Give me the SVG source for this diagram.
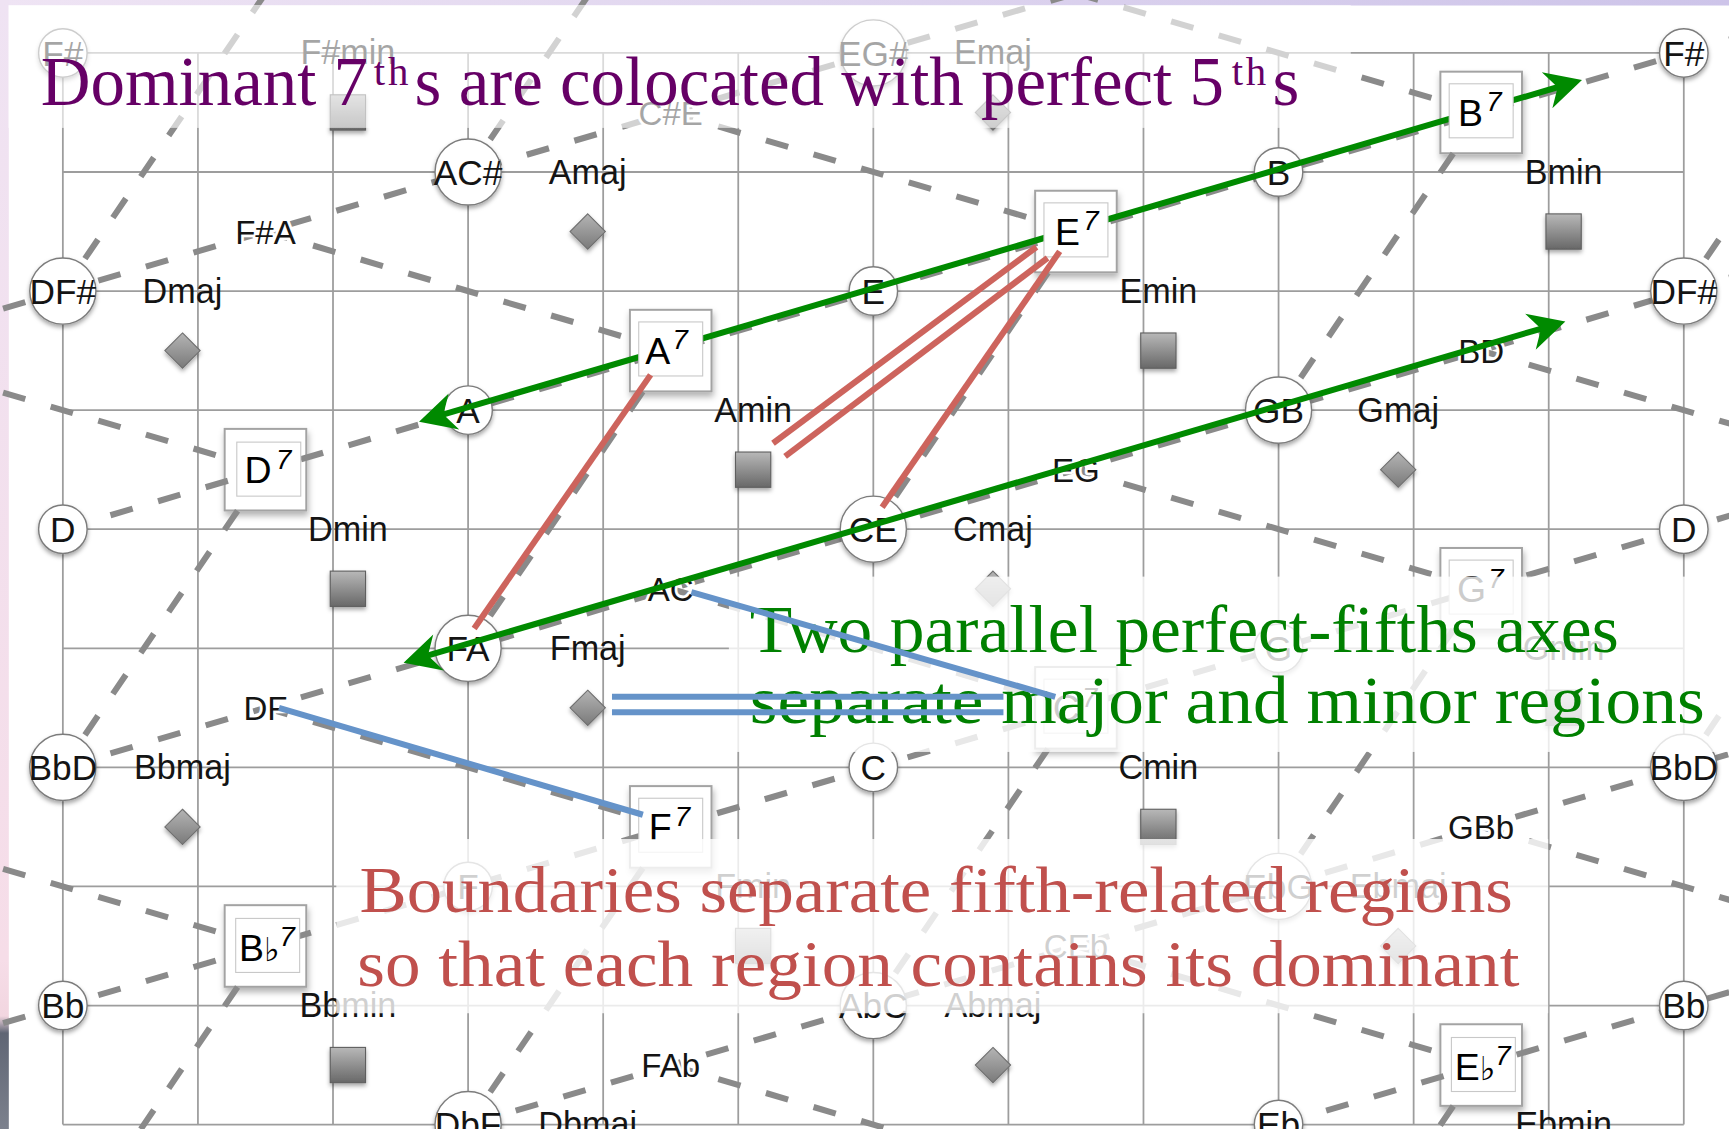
<svg xmlns="http://www.w3.org/2000/svg" width="1729" height="1129" viewBox="0 0 1729 1129">
<defs>
<style>
.grid{fill:none;stroke:#9d9d9d;stroke-width:1.6}
.bd{fill:none;stroke:#8a8a8a;stroke-width:5.5;stroke-dasharray:21 24}
.nc{fill:#fff;stroke:#7c7c7c;stroke-width:1.3;filter:url(#sh)}
.t{font-family:"Liberation Sans",Arial,sans-serif;fill:#141414;text-anchor:middle}
.nt{font-size:32px}
.ch{font-size:31px}
.iv{font-size:30px;stroke:#fff;stroke-width:5;paint-order:stroke;stroke-linejoin:round}
.sq{fill:url(#gsq);stroke:#5f5f5f;stroke-width:1;filter:url(#sh)}
.dia{fill:url(#gdia);stroke:#6f6f6f;stroke-width:1;filter:url(#sh)}
.frame{fill:#fff;stroke:#a3a3a3;stroke-width:1.8;filter:url(#sh2)}
.inner{fill:#fff;stroke:#c8c8c8;stroke-width:1}
.dom{font-family:"Liberation Sans",Arial,sans-serif;font-size:34px;fill:#000}
.sup{font-size:25px;font-style:italic}
.flat{font-family:"DejaVu Sans",sans-serif;font-size:30px}
.arrow{fill:none;stroke:#008a00;stroke-width:5.5;marker-start:url(#ah);marker-end:url(#ah)}
.red{stroke:#cd645d;stroke-width:5.5}
.blue{stroke:#6593c9;stroke-width:5.5}
.veil{fill:#fff}
.serif{font-family:"Liberation Serif","Times New Roman",serif}
.th{font-size:37px;letter-spacing:2.5px}
</style>
<filter id="sh" x="-40%" y="-40%" width="180%" height="190%"><feDropShadow dx="0" dy="2.5" stdDeviation="2" flood-color="#000" flood-opacity="0.35"/></filter>
<filter id="sh2" x="-20%" y="-20%" width="150%" height="150%"><feDropShadow dx="1" dy="4" stdDeviation="3" flood-color="#000" flood-opacity="0.3"/></filter>
<linearGradient id="gsq" x1="0" y1="0" x2="0" y2="1"><stop offset="0" stop-color="#b8b8b8"/><stop offset="1" stop-color="#686868"/></linearGradient>
<linearGradient id="gdia" x1="0" y1="0" x2="0" y2="1"><stop offset="0" stop-color="#b4b4b4"/><stop offset="1" stop-color="#7a7a7a"/></linearGradient>
<linearGradient id="topg" x1="0" y1="0" x2="1" y2="0"><stop offset="0" stop-color="#efe4f4"/><stop offset="1" stop-color="#cdc4e9"/></linearGradient>
<linearGradient id="leftg" x1="0" y1="0" x2="0" y2="1"><stop offset="0" stop-color="#efe3f3"/><stop offset="0.85" stop-color="#f6dde8"/><stop offset="0.9" stop-color="#f2d6e0"/><stop offset="0.915" stop-color="#5f6574"/><stop offset="1" stop-color="#7c818d"/></linearGradient>
<marker id="ah" markerUnits="userSpaceOnUse" orient="auto-start-reverse" refX="0" refY="0" markerWidth="10" markerHeight="10" style="overflow:visible">
<path d="M20,0 L-13,-17 L-3,0 L-13,17 Z" fill="#008a00"/>
</marker>
</defs>
<g transform="scale(1.10268,1.10254)">
<g id="background">
<rect x="0" y="0" width="1568" height="1024" fill="#fff"/>
<rect x="0" y="0" width="1568" height="5" fill="url(#topg)"/>
<rect x="0" y="0" width="8" height="1024" fill="url(#leftg)"/>
</g>
<g id="grid">
<path class="grid" d="M57,48V1020M179.5,48V1020M302,48V1020M424.5,48V1020M547,48V1020M669.5,48V1020M792,48V1020M914.5,48V1020M1037,48V1020M1159.5,48V1020M1282,48V1020M1404.5,48V1020M1527,48V1020M57,48H1527M57,156H1527M57,264H1527M57,372H1527M57,480H1527M57,588H1527M57,696H1527M57,804H1527M57,912H1527M57,1020H1527"/>
</g>
<g id="dom-frames">
<rect class="frame" x="1306.25" y="65" width="74" height="74"/>
<rect class="frame" x="938.75" y="173" width="74" height="74"/>
<rect class="frame" x="571.25" y="281" width="74" height="74"/>
<rect class="frame" x="203.75" y="389" width="74" height="74"/>
<rect class="frame" x="1306.25" y="497" width="74" height="74"/>
<rect class="frame" x="938.75" y="605" width="74" height="74"/>
<rect class="frame" x="571.25" y="713" width="74" height="74"/>
<rect class="frame" x="203.75" y="821" width="74" height="74"/>
<rect class="frame" x="1306.25" y="929" width="74" height="74"/>
</g>
<g id="boundaries">
<path class="bd" d="M-126.75,318L975.75,-6"/>
<path class="bd" d="M57,480L1710.75,-6"/>
<path class="bd" d="M57,696L1710.75,210"/>
<path class="bd" d="M-126.75,966L1710.75,426"/>
<path class="bd" d="M424.5,1020L1710.75,642"/>
<path class="bd" d="M1159.5,1020L1710.75,858"/>
<path class="bd" d="M975.75,-6L1343.25,102"/>
<path class="bd" d="M608.25,102L975.75,210"/>
<path class="bd" d="M240.75,210L608.25,318"/>
<path class="bd" d="M-126.75,318L240.75,426"/>
<path class="bd" d="M1343.25,318L1710.75,426"/>
<path class="bd" d="M975.75,426L1343.25,534"/>
<path class="bd" d="M608.25,534L975.75,642"/>
<path class="bd" d="M240.75,642L608.25,750"/>
<path class="bd" d="M-126.75,750L240.75,858"/>
<path class="bd" d="M1343.25,750L1710.75,858"/>
<path class="bd" d="M975.75,858L1343.25,966"/>
<path class="bd" d="M608.25,966L975.75,1074"/>
<path class="bd" d="M240.75,-6L57,264"/>
<path class="bd" d="M608.25,-114L424.5,156"/>
<path class="bd" d="M1343.25,102L1159.5,372"/>
<path class="bd" d="M975.75,210L792,480"/>
<path class="bd" d="M608.25,318L424.5,588"/>
<path class="bd" d="M240.75,426L57,696"/>
<path class="bd" d="M1710.75,426L1527,696"/>
<path class="bd" d="M1343.25,534L1159.5,804"/>
<path class="bd" d="M975.75,642L792,912"/>
<path class="bd" d="M608.25,750L424.5,1020"/>
<path class="bd" d="M240.75,858L57,1128"/>
<path class="bd" d="M1343.25,966L1159.5,1236"/>
<path class="bd" d="M1710.75,-6L1527,264"/>
</g>
<g id="notes">
<g id="n-Fs-L"><circle class="nc" cx="57" cy="48" r="22"/><text class="t nt" x="57" y="59.5">F#</text></g>
<g id="n-EGs"><circle class="nc" cx="792" cy="48" r="30"/><text class="t nt" x="792" y="59.5">EG#</text></g>
<g id="n-Fs-R"><circle class="nc" cx="1527" cy="48" r="22"/><text class="t nt" x="1527" y="59.5">F#</text></g>
<g id="n-ACs"><circle class="nc" cx="424.5" cy="156" r="30"/><text class="t nt" x="424.5" y="167.5">AC#</text></g>
<g id="n-B"><circle class="nc" cx="1159.5" cy="156" r="22"/><text class="t nt" x="1159.5" y="167.5">B</text></g>
<g id="n-DFs-L"><circle class="nc" cx="57" cy="264" r="30"/><text class="t nt" x="57" y="275.5">DF#</text></g>
<g id="n-E"><circle class="nc" cx="792" cy="264" r="22"/><text class="t nt" x="792" y="275.5">E</text></g>
<g id="n-DFs-R"><circle class="nc" cx="1527" cy="264" r="30"/><text class="t nt" x="1527" y="275.5">DF#</text></g>
<g id="n-A"><circle class="nc" cx="424.5" cy="372" r="22"/><text class="t nt" x="424.5" y="383.5">A</text></g>
<g id="n-GB"><circle class="nc" cx="1159.5" cy="372" r="30"/><text class="t nt" x="1159.5" y="383.5">GB</text></g>
<g id="n-D-L"><circle class="nc" cx="57" cy="480" r="22"/><text class="t nt" x="57" y="491.5">D</text></g>
<g id="n-CE"><circle class="nc" cx="792" cy="480" r="30"/><text class="t nt" x="792" y="491.5">CE</text></g>
<g id="n-D-R"><circle class="nc" cx="1527" cy="480" r="22"/><text class="t nt" x="1527" y="491.5">D</text></g>
<g id="n-FA"><circle class="nc" cx="424.5" cy="588" r="30"/><text class="t nt" x="424.5" y="599.5">FA</text></g>
<g id="n-G"><circle class="nc" cx="1159.5" cy="588" r="22"/><text class="t nt" x="1159.5" y="599.5">G</text></g>
<g id="n-BbD-L"><circle class="nc" cx="57" cy="696" r="30"/><text class="t nt" x="57" y="707.5">BbD</text></g>
<g id="n-C"><circle class="nc" cx="792" cy="696" r="22"/><text class="t nt" x="792" y="707.5">C</text></g>
<g id="n-BbD-R"><circle class="nc" cx="1527" cy="696" r="30"/><text class="t nt" x="1527" y="707.5">BbD</text></g>
<g id="n-F"><circle class="nc" cx="424.5" cy="804" r="22"/><text class="t nt" x="424.5" y="815.5">F</text></g>
<g id="n-EbG"><circle class="nc" cx="1159.5" cy="804" r="30"/><text class="t nt" x="1159.5" y="815.5">EbG</text></g>
<g id="n-Bb-L"><circle class="nc" cx="57" cy="912" r="22"/><text class="t nt" x="57" y="923.5">Bb</text></g>
<g id="n-AbC"><circle class="nc" cx="792" cy="912" r="30"/><text class="t nt" x="792" y="923.5">AbC</text></g>
<g id="n-Bb-R"><circle class="nc" cx="1527" cy="912" r="22"/><text class="t nt" x="1527" y="923.5">Bb</text></g>
<g id="n-DbF"><circle class="nc" cx="424.5" cy="1020" r="30"/><text class="t nt" x="424.5" y="1031.5">DbF</text></g>
<g id="n-Eb"><circle class="nc" cx="1159.5" cy="1020" r="22"/><text class="t nt" x="1159.5" y="1031.5">Eb</text></g>
</g>
<g id="intervals">
<g id="i-FsA"><text class="t iv" x="240.75" y="221">F#A</text></g>
<g id="i-CsE"><text class="t iv" x="608.25" y="113">C#E</text></g>
<g id="i-EG"><text class="t iv" x="975.75" y="437">EG</text></g>
<g id="i-BD"><text class="t iv" x="1343.25" y="329">BD</text></g>
<g id="i-AC"><text class="t iv" x="608.25" y="545">AC</text></g>
<g id="i-DF"><text class="t iv" x="240.75" y="653">DF</text></g>
<g id="i-GBb"><text class="t iv" x="1343.25" y="761">GBb</text></g>
<g id="i-FAb"><text class="t iv" x="608.25" y="977">FAb</text></g>
<g id="i-CEb"><text class="t iv" x="975.75" y="869">CEb</text></g>
</g>
<g id="chords">
<g id="c-Fsmin"><text class="t ch" x="315.5" y="58.5">F#min</text><rect class="sq" x="299.5" y="86" width="32" height="32"/></g>
<g id="c-Emaj"><text class="t ch" x="900.5" y="58.5">Emaj</text><path class="dia" d="M900.5,86L916.5,102L900.5,118L884.5,102Z"/></g>
<g id="c-Amaj"><text class="t ch" x="533" y="166.5">Amaj</text><path class="dia" d="M533,194L549,210L533,226L517,210Z"/></g>
<g id="c-Bmin"><text class="t ch" x="1418" y="166.5">Bmin</text><rect class="sq" x="1402" y="194" width="32" height="32"/></g>
<g id="c-Dmaj"><text class="t ch" x="165.5" y="274.5">Dmaj</text><path class="dia" d="M165.5,302L181.5,318L165.5,334L149.5,318Z"/></g>
<g id="c-Emin"><text class="t ch" x="1050.5" y="274.5">Emin</text><rect class="sq" x="1034.5" y="302" width="32" height="32"/></g>
<g id="c-Amin"><text class="t ch" x="683" y="382.5">Amin</text><rect class="sq" x="667" y="410" width="32" height="32"/></g>
<g id="c-Gmaj"><text class="t ch" x="1268" y="382.5">Gmaj</text><path class="dia" d="M1268,410L1284,426L1268,442L1252,426Z"/></g>
<g id="c-Dmin"><text class="t ch" x="315.5" y="490.5">Dmin</text><rect class="sq" x="299.5" y="518" width="32" height="32"/></g>
<g id="c-Cmaj"><text class="t ch" x="900.5" y="490.5">Cmaj</text><path class="dia" d="M900.5,518L916.5,534L900.5,550L884.5,534Z"/></g>
<g id="c-Fmaj"><text class="t ch" x="533" y="598.5">Fmaj</text><path class="dia" d="M533,626L549,642L533,658L517,642Z"/></g>
<g id="c-Gmin"><text class="t ch" x="1418" y="598.5">Gmin</text><rect class="sq" x="1402" y="626" width="32" height="32"/></g>
<g id="c-Bbmaj"><text class="t ch" x="165.5" y="706.5">Bbmaj</text><path class="dia" d="M165.5,734L181.5,750L165.5,766L149.5,750Z"/></g>
<g id="c-Cmin"><text class="t ch" x="1050.5" y="706.5">Cmin</text><rect class="sq" x="1034.5" y="734" width="32" height="32"/></g>
<g id="c-Fmin"><text class="t ch" x="683" y="814.5">Fmin</text><rect class="sq" x="667" y="842" width="32" height="32"/></g>
<g id="c-Ebmaj"><text class="t ch" x="1268" y="814.5">Ebmaj</text><path class="dia" d="M1268,842L1284,858L1268,874L1252,858Z"/></g>
<g id="c-Bbmin"><text class="t ch" x="315.5" y="922.5">Bbmin</text><rect class="sq" x="299.5" y="950" width="32" height="32"/></g>
<g id="c-Abmaj"><text class="t ch" x="900.5" y="922.5">Abmaj</text><path class="dia" d="M900.5,950L916.5,966L900.5,982L884.5,966Z"/></g>
<g id="c-Dbmaj"><text class="t ch" x="533" y="1030.5">Dbmaj</text></g>
<g id="c-Ebmin"><text class="t ch" x="1418" y="1030.5">Ebmin</text></g>
</g>
<g id="connectors-fifths">
<line class="arrow" x1="399.2" y1="376.8" x2="1415.5" y2="78.2"/>
<line class="arrow" x1="385.2" y1="595.4" x2="1400.4" y2="297.3"/>
</g>
<g id="dominants">
<g id="d-B7"><rect class="inner" x="1314.25" y="76" width="58" height="49"/><text class="dom" x="1322.25" y="114">B<tspan class="sup" dx="3" dy="-13">7</tspan></text></g>
<g id="d-E7"><rect class="inner" x="946.75" y="184" width="58" height="49"/><text class="dom" x="956.75" y="222">E<tspan class="sup" dx="3" dy="-13">7</tspan></text></g>
<g id="d-A7"><rect class="inner" x="579.25" y="292" width="58" height="49"/><text class="dom" x="585.25" y="330">A<tspan class="sup" dx="2" dy="-13">7</tspan></text></g>
<g id="d-D7"><rect class="inner" x="214.75" y="401" width="58" height="49"/><text class="dom" x="221.75" y="438">D<tspan class="sup" dx="4" dy="-13">7</tspan></text></g>
<g id="d-G7"><rect class="inner" x="1314.25" y="508" width="58" height="49"/><text class="dom" x="1321.25" y="546">G<tspan class="sup" dx="2" dy="-13">7</tspan></text></g>
<g id="d-C7"><rect class="inner" x="946.75" y="616" width="58" height="49"/><text class="dom" x="954.75" y="654">C<tspan class="sup" dx="2" dy="-13">7</tspan></text></g>
<g id="d-F7"><rect class="inner" x="579.25" y="724" width="58" height="49"/><text class="dom" x="588.25" y="762">F<tspan class="sup" dx="3" dy="-13">7</tspan></text></g>
<g id="d-Bb7"><rect class="inner" x="213.75" y="833" width="58" height="49"/><text class="dom" x="216.75" y="872">B<tspan class="flat" dx="0">♭</tspan><tspan class="sup" dx="0" dy="-14">7</tspan></text></g>
<g id="d-Eb7"><rect class="inner" x="1316.25" y="941" width="58" height="49"/><text class="dom" x="1319.25" y="980">E<tspan class="flat" dx="0">♭</tspan><tspan class="sup" dx="0" dy="-14">7</tspan></text></g>
</g>
<g id="veils">
<rect class="veil" x="7.6" y="4.5" width="1217.4" height="111.5" opacity="0.62"/>
<rect class="veil" x="661" y="523" width="907" height="159" opacity="0.8"/>
<rect class="veil" x="305" y="761" width="1099" height="158" opacity="0.8"/>
</g>
<g id="connectors-red">
<line class="red" x1="590" y1="340" x2="430" y2="570"/>
<line class="red" x1="940" y1="224" x2="701" y2="402"/>
<line class="red" x1="950" y1="234" x2="712" y2="414"/>
<line class="red" x1="961" y1="228" x2="800" y2="460"/>
</g>
<g id="title">
<text class="serif" fill="#660066" font-size="62.5"><tspan x="37" y="95">Dominant 7</tspan><tspan class="th" x="339" y="77">th</tspan><tspan x="376" y="95">s are colocated with perfect 5</tspan><tspan class="th" x="1117" y="77">th</tspan><tspan x="1154" y="95">s</tspan></text>
</g>
<g id="green-note">
<text class="serif" fill="#008000" font-size="61" x="680" y="591" textLength="788" lengthAdjust="spacingAndGlyphs">Two parallel perfect-fifths axes</text>
<text class="serif" fill="#008000" font-size="61" x="680" y="656" textLength="866" lengthAdjust="spacingAndGlyphs">separate major and minor regions</text>
</g>
<g id="red-note">
<text class="serif" fill="#c0504d" font-size="60" x="326" y="827" textLength="1046" lengthAdjust="spacingAndGlyphs">Boundaries separate fifth-related regions</text>
<text class="serif" fill="#c0504d" font-size="60" x="324" y="894" textLength="1054" lengthAdjust="spacingAndGlyphs">so that each region contains its dominant</text>
</g>
<g id="connectors-blue">
<line class="blue" x1="627" y1="537" x2="957" y2="632"/>
<line class="blue" x1="555" y1="632" x2="910" y2="632"/>
<line class="blue" x1="555" y1="646" x2="910" y2="646"/>
<line class="blue" x1="253" y1="642" x2="583" y2="739"/>
</g>
</g>
</svg>
